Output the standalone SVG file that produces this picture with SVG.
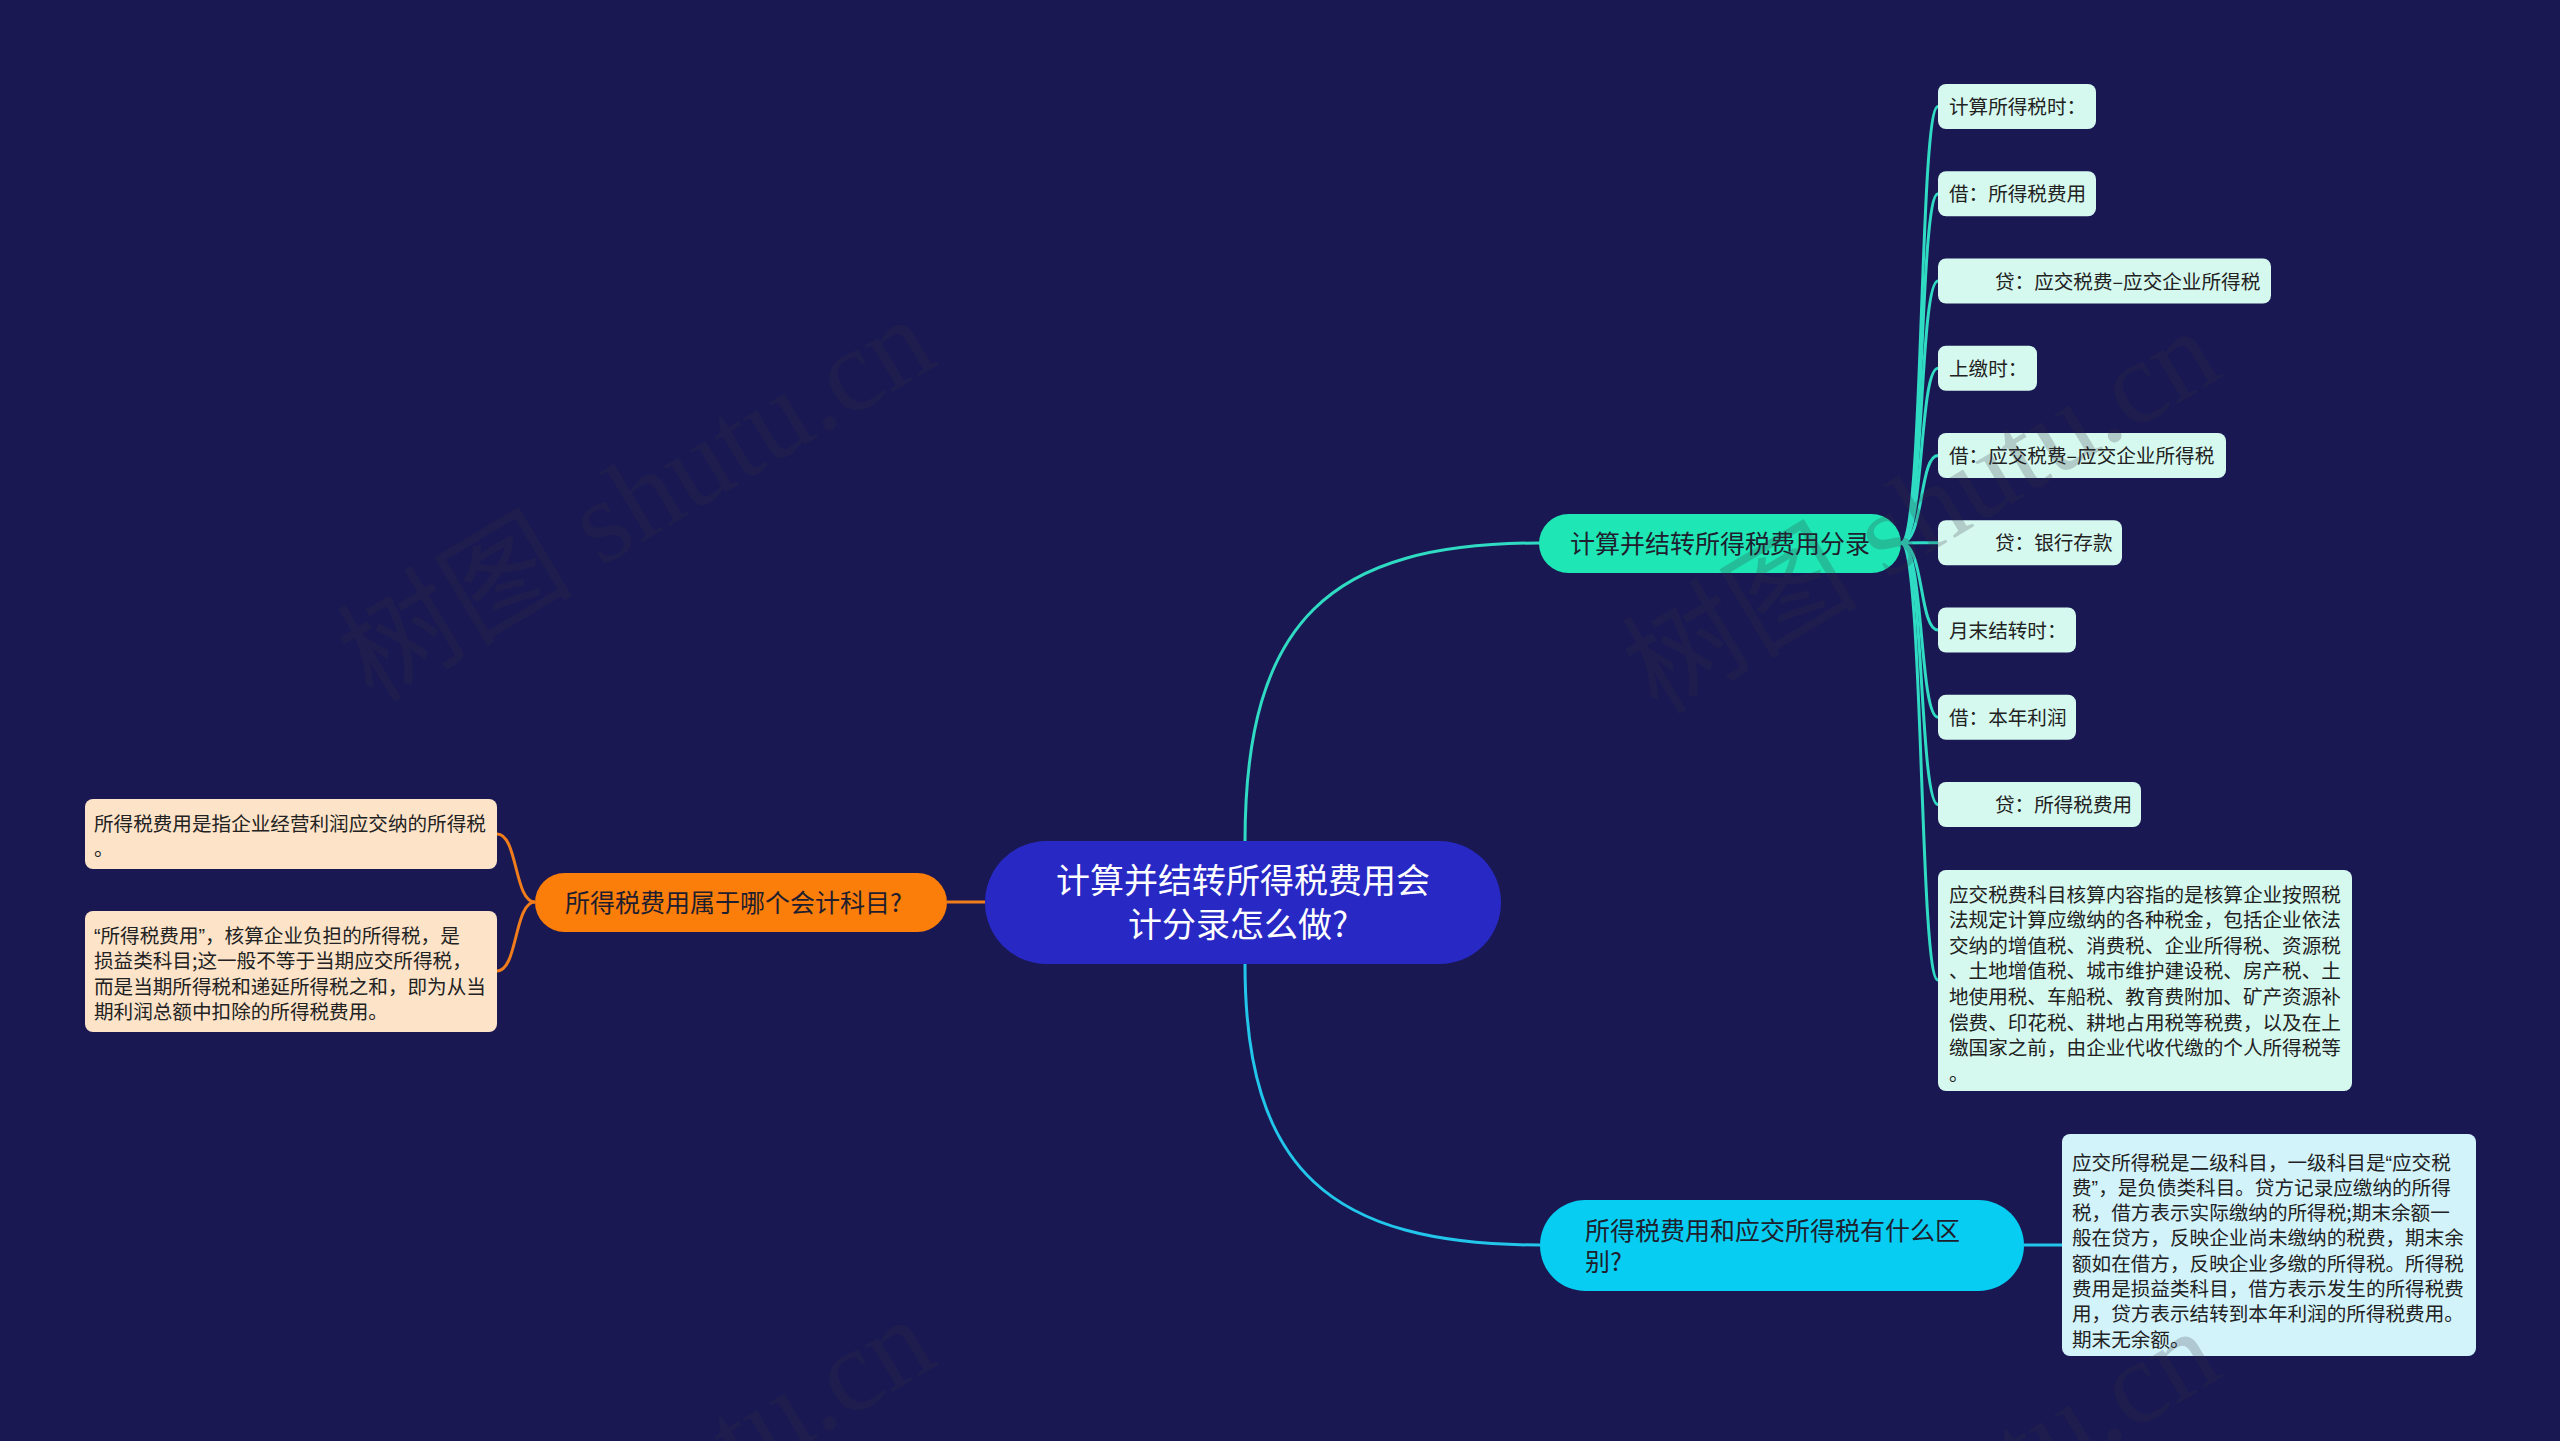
<svg xmlns="http://www.w3.org/2000/svg" width="2560" height="1441" viewBox="0 0 2560 1441">
<style>
text{font-family:"Noto Sans CJK SC","Noto Sans",sans-serif}
.leafR{fill:#d6f9ef}
.leafL{fill:#fde4c9}
.leafC{fill:#d3f3fb}
.lt{font-size:19.6px;fill:#222}
.bt{fill:#1e1e2e;font-size:25px}
.q{font-family:"Liberation Sans",sans-serif}
.cT{stroke:#2fdcc3;stroke-width:3;fill:none}
.cO{stroke:#f07c1c;stroke-width:3;fill:none}
.cC{stroke:#22c6ea;stroke-width:3;fill:none}
.wm{font-family:"Liberation Serif","Noto Sans CJK SC",serif;font-size:118px;fill:#323240;opacity:0.22}
</style>
<rect width="2560" height="1441" fill="#1a1852"/>

<g id="connectors">
<path class="cT" d="M1245 842 C1245 620 1330 543 1540 543"/>
<path class="cC" d="M1245 964 C1245 1170 1330 1245 1540 1245"/>
<path class="cO" d="M985 902 L947 902"/>
<path class="cC" d="M2024 1245 L2062 1245"/>
<path class="cO" d="M535 902 C514 902 518 834 497 834"/>
<path class="cO" d="M535 902 C514 902 518 971 497 971"/>
<path class="cT" d="M1901 543 C1924 543 1919 106.5 1938 106.5"/>
<path class="cT" d="M1901 543 C1924 543 1919 193.75 1938 193.75"/>
<path class="cT" d="M1901 543 C1924 543 1919 281 1938 281"/>
<path class="cT" d="M1901 543 C1924 543 1919 368.25 1938 368.25"/>
<path class="cT" d="M1901 543 C1924 543 1919 455.5 1938 455.5"/>
<path class="cT" d="M1901 543 C1924 543 1919 542.75 1938 542.75"/>
<path class="cT" d="M1901 543 C1924 543 1919 630 1938 630"/>
<path class="cT" d="M1901 543 C1924 543 1919 717.25 1938 717.25"/>
<path class="cT" d="M1901 543 C1924 543 1919 804.5 1938 804.5"/>
<path class="cT" d="M1901 543 C1924 543 1919 980 1938 980"/>
</g>

<g id="root">
<rect x="985" y="841" width="516" height="123" rx="61.5" fill="#2828c4"/>
<text x="1243" y="893" font-size="34" fill="#ffffff" text-anchor="middle">计算并结转所得税费用会</text>
<text x="1128" y="937" font-size="34" fill="#ffffff">计分录怎么做?</text>
</g>

<g id="branch1">
<rect x="1539" y="514" width="362" height="59" rx="29.5" fill="#1fe6b5"/>
<text class="bt" x="1720" y="552.5" text-anchor="middle">计算并结转所得税费用分录</text>
</g>

<g id="branch2">
<rect x="1540" y="1200" width="484" height="91" rx="45.5" fill="#06cdf1"/>
<text class="bt" x="1585" y="1240">所得税费用和应交所得税有什么区</text>
<text class="bt" x="1585" y="1271">别?</text>
</g>

<g id="branch3">
<rect x="535" y="873" width="412" height="59" rx="29.5" fill="#fb7d0a"/>
<text class="bt" x="565" y="911.5">所得税费用属于哪个会计科目?</text>
</g>

<g id="leaf1"><rect class="leafR" x="1938" y="84" width="158" height="45" rx="8"/><text class="lt" x="1949" y="114">计算所得税时：</text></g>
<g id="leaf2"><rect class="leafR" x="1938" y="171.25" width="158" height="45" rx="8"/><text class="lt" x="1949" y="201.25">借：所得税费用</text></g>
<g id="leaf3"><rect class="leafR" x="1938" y="258.5" width="333" height="45" rx="8"/><text class="lt" x="1995" y="288.5">贷：应交税费–应交企业所得税</text></g>
<g id="leaf4"><rect class="leafR" x="1938" y="345.75" width="99" height="45" rx="8"/><text class="lt" x="1949" y="375.75">上缴时：</text></g>
<g id="leaf5"><rect class="leafR" x="1938" y="433" width="288" height="45" rx="8"/><text class="lt" x="1949" y="463">借：应交税费–应交企业所得税</text></g>
<g id="leaf6"><rect class="leafR" x="1938" y="520.25" width="184" height="45" rx="8"/><text class="lt" x="1995" y="550.25">贷：银行存款</text></g>
<g id="leaf7"><rect class="leafR" x="1938" y="607.5" width="138" height="45" rx="8"/><text class="lt" x="1949" y="637.5">月末结转时：</text></g>
<g id="leaf8"><rect class="leafR" x="1938" y="694.75" width="138" height="45" rx="8"/><text class="lt" x="1949" y="724.75">借：本年利润</text></g>
<g id="leaf9"><rect class="leafR" x="1938" y="782" width="203" height="45" rx="8"/><text class="lt" x="1995" y="812">贷：所得税费用</text></g>
<g id="leaf10"><rect class="leafR" x="1938" y="870" width="414" height="221" rx="8"/>
<text class="lt" x="1949" y="901.5">应交税费科目核算内容指的是核算企业按照税</text>
<text class="lt" x="1949" y="927.1">法规定计算应缴纳的各种税金，包括企业依法</text>
<text class="lt" x="1949" y="952.7">交纳的增值税、消费税、企业所得税、资源税</text>
<text class="lt" x="1949" y="978.3">、土地增值税、城市维护建设税、房产税、土</text>
<text class="lt" x="1949" y="1003.9">地使用税、车船税、教育费附加、矿产资源补</text>
<text class="lt" x="1949" y="1029.5">偿费、印花税、耕地占用税等税费，以及在上</text>
<text class="lt" x="1949" y="1055.1">缴国家之前，由企业代收代缴的个人所得税等</text>
<text class="lt" x="1949" y="1080.7">。</text>
</g>

<g id="leaf11"><rect class="leafL" x="85" y="799" width="412" height="70" rx="8"/>
<text class="lt" x="94" y="830.5">所得税费用是指企业经营利润应交纳的所得税</text>
<text class="lt" x="94" y="856.1">。</text>
</g>
<g id="leaf12"><rect class="leafL" x="85" y="911" width="412" height="121" rx="8"/>
<text class="lt" x="94" y="942.5"><tspan class="q">“</tspan>所得税费用<tspan class="q">”</tspan>，核算企业负担的所得税，是</text>
<text class="lt" x="94" y="968.1">损益类科目;这一般不等于当期应交所得税，</text>
<text class="lt" x="94" y="993.7">而是当期所得税和递延所得税之和，即为从当</text>
<text class="lt" x="94" y="1019.3">期利润总额中扣除的所得税费用。</text>
</g>

<g id="leaf13"><rect class="leafC" x="2062" y="1134" width="414" height="222" rx="8"/>
<text class="lt" x="2072" y="1169.5">应交所得税是二级科目，一级科目是<tspan class="q">“</tspan>应交税</text>
<text class="lt" x="2072" y="1194.8">费<tspan class="q">”</tspan>，是负债类科目。贷方记录应缴纳的所得</text>
<text class="lt" x="2072" y="1220.1">税，借方表示实际缴纳的所得税;期末余额一</text>
<text class="lt" x="2072" y="1245.4">般在贷方，反映企业尚未缴纳的税费，期末余</text>
<text class="lt" x="2072" y="1270.7">额如在借方，反映企业多缴的所得税。所得税</text>
<text class="lt" x="2072" y="1296">费用是损益类科目，借方表示发生的所得税费</text>
<text class="lt" x="2072" y="1321.3">用，贷方表示结转到本年利润的所得税费用。</text>
<text class="lt" x="2072" y="1346.6">期末无余额。</text>
</g>

<g id="watermarks">
<text class="wm" transform="translate(373 704) rotate(-31)">树图 shutu.cn</text>
<text class="wm" transform="translate(1658 716) rotate(-31)">树图 shutu.cn</text>
<text class="wm" transform="translate(373 1704) rotate(-31)">树图 shutu.cn</text>
<text class="wm" transform="translate(1658 1716) rotate(-31)">树图 shutu.cn</text>
</g>
</svg>
